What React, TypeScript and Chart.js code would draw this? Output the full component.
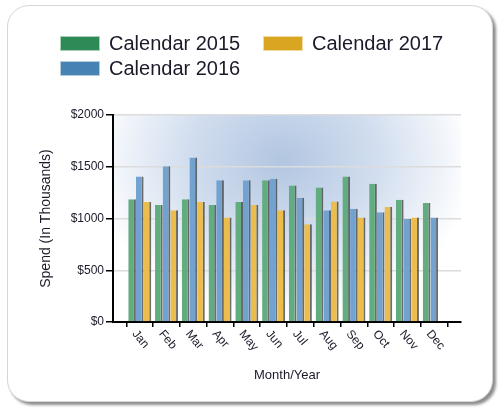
import React, { useEffect, useRef } from "react";
import { Chart, registerables } from "chart.js";

Chart.register(...registerables);

const months = ["Jan", "Feb", "Mar", "Apr", "May", "Jun", "Jul", "Aug", "Sep", "Oct", "Nov", "Dec"];
const series2015 = [1185, 1130, 1185, 1130, 1160, 1370, 1320, 1300, 1405, 1335, 1180, 1150];
const series2016 = [1405, 1505, 1590, 1370, 1370, 1385, 1200, 1080, 1095, 1060, 995, 1010];
const series2017 = [1160, 1080, 1160, 1010, 1130, 1080, 945, 1165, 1010, 1110, 1010, null];
const yTicks = [0, 500, 1000, 1500, 2000];

const legendItems = [
  { label: "Calendar 2015", color: "#2e8b57", x: 60, y: 35 },
  { label: "Calendar 2017", color: "#daa520", x: 263, y: 35 },
  { label: "Calendar 2016", color: "#4682b4", x: 60, y: 60 },
];

const FONT = "'Liberation Sans', Arial, sans-serif";

const bgPlugin = {
  id: "bgGrad",
  beforeDraw(chart: any) {
    const { ctx, chartArea } = chart;
    if (!chartArea) return;
    const { left, top, right, bottom } = chartArea;
    const cx = (left + right) / 2 - 5;
    const cy = top + 45;
    ctx.save();
    ctx.beginPath();
    ctx.rect(left, top, right - left, bottom - top);
    ctx.clip();
    ctx.translate(cx, cy);
    ctx.scale(1.1, 0.9);
    const g = ctx.createRadialGradient(0, 0, 0, 0, 0, 175);
    g.addColorStop(0, "rgba(178,198,225,1)");
    g.addColorStop(0.5, "rgba(210,222,239,1)");
    g.addColorStop(1, "rgba(255,255,255,1)");
    ctx.fillStyle = g;
    ctx.fillRect(-400, -400, 800, 800);
    ctx.restore();
  },
};

const xLabelPlugin = {
  id: "xLabels",
  afterDraw(chart: any) {
    const { ctx, chartArea } = chart;
    const scale = chart.scales.x;
    ctx.save();
    ctx.font = `12px ${FONT}`;
    ctx.fillStyle = "#1a1a2a";
    ctx.textAlign = "left";
    ctx.textBaseline = "top";
    months.forEach((m, i) => {
      const x = scale.getPixelForTick(i + 1);
      ctx.save();
      ctx.translate(x - 1, chartArea.bottom + 6);
      ctx.rotate((50 * Math.PI) / 180);
      ctx.fillText(m, 0, 0);
      ctx.restore();
    });
    ctx.restore();
  },
};

export default function App() {
  const ref = useRef<HTMLCanvasElement | null>(null);

  useEffect(() => {
    const canvas = ref.current;
    if (!canvas) return;
    const labels = ["", ...months, ""];
    const pad = (arr: (number | null)[]) => [null, ...arr, null];
    const edge = "rgba(60,60,60,0.75)";
    const bw = { top: 0, right: 2, bottom: 0, left: 0 } as any;
    const chart = new Chart(canvas, {
      type: "bar",
      data: {
        labels,
        datasets: [
          { label: "Calendar 2015", data: pad(series2015), backgroundColor: "#62ad7f", borderColor: edge, borderWidth: bw },
          { label: "Calendar 2016", data: pad(series2016), backgroundColor: "#72a2cf", borderColor: edge, borderWidth: bw },
          { label: "Calendar 2017", data: pad(series2017), backgroundColor: "#ebbd4c", borderColor: edge, borderWidth: bw },
        ],
      },
      options: {
        animation: false,
        responsive: false,
        layout: { padding: { top: 115, right: 42, left: 34, bottom: 22 } },
        plugins: { legend: { display: false }, tooltip: { enabled: false } },
        datasets: { bar: { categoryPercentage: 0.86, barPercentage: 1.0 } },
        scales: {
          x: {
            offset: false,
            grid: { drawOnChartArea: false, drawTicks: true, tickLength: 5, color: "#000", lineWidth: 1.5 },
            border: { display: true, color: "#000", width: 2 },
            ticks: { color: "rgba(0,0,0,0)", minRotation: 0, maxRotation: 0, autoSkip: false, font: { size: 12, family: FONT } },
            title: { display: true, text: "Month/Year", color: "#1a1a2a", font: { size: 13, family: FONT } },
            afterFit: (s: any) => { s.height = 65; },
          },
          y: {
            min: 0,
            max: 2000,
            afterBuildTicks: (s: any) => { s.ticks = yTicks.map((v) => ({ value: v })); },
            grid: { color: "#dcdcdc", lineWidth: 1.5, tickColor: "#000", tickLength: 7 },
            border: { display: true, color: "#000", width: 2 },
            ticks: { color: "#1a1a2a", padding: 2, font: { size: 12, family: FONT }, callback: (v: any) => "$" + v },
            title: { display: true, text: "Spend (In Thousands)", color: "#1a1a2a", font: { size: 14, family: FONT } },
            afterFit: (s: any) => { s.width = 79; },
          },
        },
      },
      plugins: [bgPlugin, xLabelPlugin],
    });
    return () => chart.destroy();
  }, []);

  return (
    <div style={{ position: "fixed", left: 0, top: 0, width: 503, height: 409, background: "#fff", overflow: "hidden" }}>
      <div
        style={{
          position: "absolute",
          left: 7,
          top: 5,
          width: 484,
          height: 395,
          border: "1px solid #d6d6d6",
          borderRadius: 22,
          background: "#fff",
          boxShadow: "3px 3px 3px rgba(0,0,0,0.45)",
        }}
      />
      <canvas ref={ref} width={503} height={409} style={{ position: "absolute", left: 0, top: 0, width: 503, height: 409 }} />
      {legendItems.map((it) => (
        <div key={it.label} style={{ position: "absolute", left: it.x, top: it.y, height: 16, display: "flex", alignItems: "center", whiteSpace: "nowrap" }}>
          <div style={{ width: 40, height: 15, background: it.color, border: "1px solid rgba(255,255,255,0.6)", boxSizing: "border-box" }} />
          <span style={{ marginLeft: 9, font: `20px ${FONT}`, color: "#1a1a2a", lineHeight: "16px" }}>{it.label}</span>
        </div>
      ))}
    </div>
  );
}
